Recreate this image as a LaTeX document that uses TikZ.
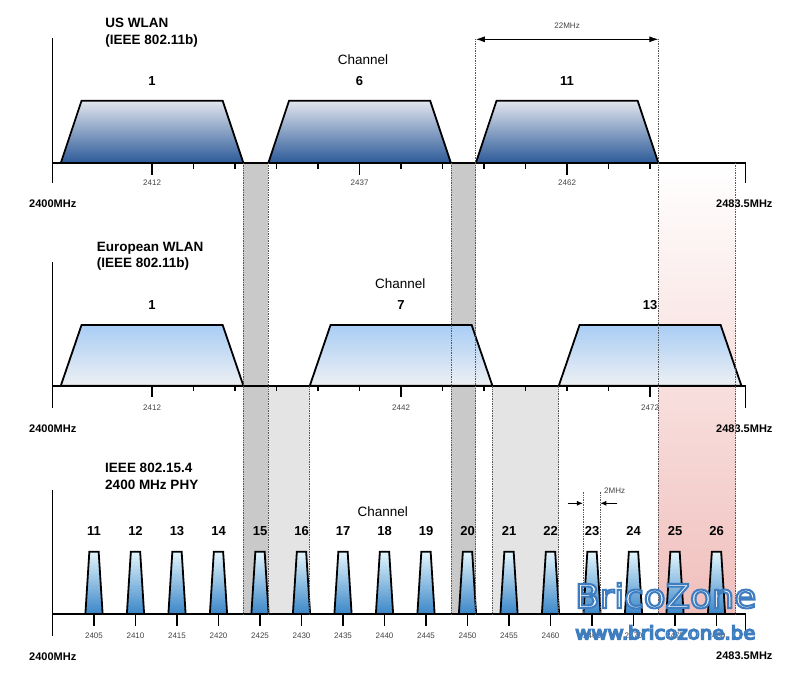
\documentclass[tikz,border=0pt]{standalone}
\usepackage{fontspec}
\setmainfont{Liberation Sans}
\newfontfamily\wmfont{DejaVu Sans}
\usetikzlibrary{arrows.meta}

\definecolor{ustop}{HTML}{E2E6EE}
\definecolor{usbot}{HTML}{2C5A98}
\definecolor{eutop}{HTML}{A9CDF5}
\definecolor{eubot}{HTML}{EDF0F3}
\definecolor{zbtop}{HTML}{E4F6FC}
\definecolor{zbbot}{HTML}{3A86C8}
\definecolor{banddark}{HTML}{C9C9C9}
\definecolor{bandlight}{HTML}{E4E4E4}
\definecolor{bandred}{HTML}{F0BFBC}
\definecolor{tickgray}{HTML}{444444}
\definecolor{wmfill}{HTML}{C6DCF2}

% outlined text for the watermark
\newcommand\outlined[2]{\special{pdf:literal direct 2 Tr #1 w 0.243 0.490 0.753 RG}#2\special{pdf:literal direct 0 Tr}}

\tikzset{
  axisln/.style={line width=1.8pt, line join=miter},
  tck/.style={line width=1.4pt},
  trap/.style={line width=1.8pt, line join=miter},
  dotln/.style={densely dotted, line width=0.7pt, black!65},
  rowtitle/.style={font=\fontsize{13.5}{16}\selectfont\bfseries, anchor=base west, inner sep=0pt},
  chan/.style={font=\fontsize{13}{16}\selectfont\bfseries, anchor=base, inner sep=0pt},
  chtitle/.style={font=\fontsize{13.5}{16}\selectfont, anchor=base, inner sep=0pt},
  freq/.style={font=\fontsize{8}{10}\selectfont, text=tickgray, anchor=base, inner sep=0pt},
  bandend/.style={font=\fontsize{11}{13}\selectfont\bfseries, anchor=base west, inner sep=0pt},
  wmark/.style={font=\wmfont\fontsize{33}{36}\selectfont, anchor=base west, inner sep=0pt, xscale=1.08},
  wmsmall/.style={font=\wmfont\fontsize{18.3}{20}\selectfont, anchor=base west, inner sep=0pt, xscale=1.08},
}

\begin{document}
\begin{tikzpicture}[x=8.3pt, y=-1pt]
\useasboundingbox (-6.3253,0) rectangle (91.386,678);
\fill[white] (-6.3253,0) rectangle (91.386,678);

% overlap bands
\fill[banddark] (23,163) rectangle (26,614);
\fill[banddark] (48,163) rectangle (51,614);
\fill[bandlight] (26,385.7) rectangle (31,614);
\fill[bandlight] (53,385.7) rectangle (61,614);
\shade[top color=white, bottom color=bandred] (73,163) rectangle (82.31,614);

% US WLAN
\foreach \f in {12,37,62}
  \shadedraw[trap, top color=ustop, bottom color=usbot] (\f-11,163) -- (\f-8.5,100.7) -- (\f+8.5,100.7) -- (\f+11,163) -- cycle;
\draw[axisln] (0,37.5) -- (0,183.3);
\draw[axisln] (0,163) -- (83.5,163) -- (83.5,183.3);
\foreach \f in {17,22,27,32,42,47,52,57,67,72}
  \draw[tck] (\f,163) -- (\f,168.5);
\foreach \f in {12,37,62}{
  \draw[tck] (\f,163) -- (\f,174.5);
  \node[freq] (us\f) at (\f,185.7) {\the\numexpr2400+\f\relax};
}
\node[rowtitle] (usa) at (6.36,27.3) {US WLAN};
\node[rowtitle] (usb) at (6.36,44) {(IEEE 802.11b)};
\node[chtitle] (usch) at (37.4,64.3) {Channel};
\node[chan] (us1) at (12,85) {1};
\node[chan] (us6) at (37,85) {6};
\node[chan] (us11) at (62,85) {11};
\node[bandend] (uslo) at (-2.83,207.3) {2400MHz};
\node[bandend] (ushi) at (79.94,207.3) {2483.5MHz};

% European WLAN
\foreach \f in {12,42,72}
  \shadedraw[trap, top color=eutop, bottom color=eubot] (\f-11,385.7) -- (\f-8.5,325) -- (\f+8.5,325) -- (\f+11,385.7) -- cycle;
\draw[axisln] (0,262) -- (0,408.3);
\draw[axisln] (0,385.7) -- (83.5,385.7) -- (83.5,408.3);
\foreach \f in {17,22,27,32,37,47,52,57,62,67}
  \draw[tck] (\f,385.7) -- (\f,391.2);
\foreach \f in {12,42,72}{
  \draw[tck] (\f,385.7) -- (\f,397.2);
  \node[freq] (eu\f) at (\f,410) {\the\numexpr2400+\f\relax};
}
\node[rowtitle] (eua) at (5.33,251) {European WLAN};
\node[rowtitle] (eub) at (5.33,267.7) {(IEEE 802.11b)};
\node[chtitle] (euch) at (41.9,288.3) {Channel};
\node[chan] (eu1) at (12,309) {1};
\node[chan] (eu7) at (42,309) {7};
\node[chan] (eu13) at (72,309) {13};
\node[bandend] (eulo) at (-2.83,432.3) {2400MHz};
\node[bandend] (euhi) at (79.94,432.3) {2483.5MHz};

% IEEE 802.15.4
\foreach \k in {11,...,26}{
  \pgfmathtruncatemacro\f{5*(\k-10)}
  \shadedraw[trap, top color=zbtop, bottom color=zbbot] (\f-1.04,614) -- (\f-0.56,551.7) -- (\f+0.56,551.7) -- (\f+1.04,614) -- cycle;
  \draw[tck] (\f,614) -- (\f,625.7);
  \node[freq] (zf\k) at (\f,638.3) {\the\numexpr2400+\f\relax};
  \node[chan] (zb\k) at (\f,535.7) {\k};
}
\draw[axisln] (0,490) -- (0,636);
\draw[axisln] (0,614) -- (83.5,614) -- (83.5,636);
\node[rowtitle] (zba) at (6.33,472.3) {IEEE 802.15.4};
\node[rowtitle] (zbb) at (6.33,489) {2400 MHz PHY};
\node[chtitle] (zbch) at (39.8,516) {Channel};
\node[bandend] (zblo) at (-2.83,660) {2400MHz};
\node[bandend] (zbhi) at (79.94,659.5) {2483.5MHz};

% dotted guides
\foreach \x/\ya in {23/163, 26/163, 31/385.7, 48/163, 51/39.3, 53/385.7, 61/385.7, 73/39.3, 82.31/163, 63.9/491.7, 66/491.7}
  \draw[dotln] (\x,\ya) -- (\x,614);

% widths
\coordinate (w22a) at (51,39.3);
\coordinate (w22b) at (73,39.3);
\draw[line width=1pt, {Latex[length=9pt,width=6pt]}-{Latex[length=9pt,width=6pt]}] (w22a) -- (w22b);
\node[freq] (w22) at (62,28.7) {22MHz};
\coordinate (w2a) at (62.07,503.3);
\coordinate (w2b) at (63.9,503.3);
\coordinate (w2c) at (68.05,503.3);
\coordinate (w2d) at (66,503.3);
\draw[line width=0.9pt, -{Latex[length=6pt,width=5pt]}] (w2a) -- (w2b);
\draw[line width=0.9pt, -{Latex[length=6pt,width=5pt]}] (w2c) -- (w2d);
\node[freq, anchor=base west] (w2) at (66.45,493.3) {2MHz};

% watermark
\node[wmark, text=white] (wma) at (62.95,608) {\outlined{2}{BricoZone}};
\node[wmsmall, text=wmfill] (wmb) at (62.95,639.3) {\outlined{1.4}{www.bricozone.be}};

\end{tikzpicture}
\end{document}
